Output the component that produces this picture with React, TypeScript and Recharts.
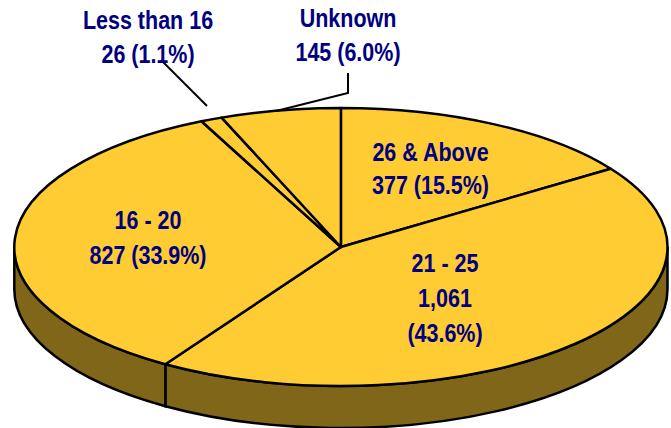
import { PieChart, Pie } from "recharts"

const categories = ["26 & Above", "21 - 25", "16 - 20", "Less than 16", "Unknown"]
const counts = [377, 1061, 827, 26, 145]
const labelLines = [
  ["26 & Above", "377 (15.5%)"],
  ["21 - 25", "1,061", "(43.6%)"],
  ["16 - 20", "827 (33.9%)"],
  ["Less than 16", "26 (1.1%)"],
  ["Unknown", "145 (6.0%)"],
]

const chartData = categories.map((name, i) => ({ name, value: counts[i] }))

const WIDTH = 671
const HEIGHT = 428
const CX = 340.9
const CY = 247
const RX = 326.6
const RY = 139
const DEPTH = 42
const TOP_COLOR = "#FFCC33"
const WALL_COLOR = "#806619"
const TEXT_COLOR = "#000080"
const LINE_WIDTH = 2.5
// no narrow face is installed, so the bold face gets squeezed horizontally
const TEXT_SQUEEZE = 0.86

// label anchor (center x, first baseline, line height), same order as categories
const labelPos = [
  { x: 430.5, y: 161, lh: 33 },
  { x: 445, y: 272, lh: 35 },
  { x: 148, y: 229, lh: 35 },
  { x: 148, y: 29, lh: 34 },
  { x: 348, y: 27, lh: 34 },
]
const leaders = [
  "161,60 207,106",
  "348,73 348,93 276,111",
]

const pt = (deg: number, dy = 0) => {
  const a = (deg * Math.PI) / 180
  return `${CX + RX * Math.cos(a)} ${CY - RY * Math.sin(a) + dy}`
}

// recharts works out the angles, this just squashes the sector into an ellipse
function EllipseSlice(props: any) {
  const { startAngle, endAngle } = props
  const large = startAngle - endAngle > 180 ? 1 : 0
  const top = `M ${CX} ${CY} L ${pt(startAngle)} A ${RX} ${RY} 0 ${large} 1 ${pt(endAngle)} Z`
  const hi = Math.min(startAngle, 0)
  const lo = Math.max(endAngle, -180)
  return (
    <g>
      {hi > lo && (
        <path
          d={`M ${pt(hi)} A ${RX} ${RY} 0 0 1 ${pt(lo)} L ${pt(lo, DEPTH)} A ${RX} ${RY} 0 0 0 ${pt(hi, DEPTH)} Z`}
          fill={WALL_COLOR}
          stroke="#000"
          strokeWidth={LINE_WIDTH}
        />
      )}
      <path d={top} fill={TOP_COLOR} stroke="#000" strokeWidth={LINE_WIDTH} strokeLinejoin="round" />
    </g>
  )
}

function SliceLabel({ index }: any) {
  const pos = labelPos[index]
  return (
    <g>
      {index === 3 && <polyline points={leaders[0]} fill="none" stroke="#000" strokeWidth={2} />}
      {index === 4 && <polyline points={leaders[1]} fill="none" stroke="#000" strokeWidth={2} />}
      {labelLines[index].map((line, i) => (
        <text
          key={line}
          transform={`translate(${pos.x} ${pos.y + i * pos.lh}) scale(${TEXT_SQUEEZE} 1)`}
          textAnchor="middle"
          fontFamily="'Liberation Sans', sans-serif"
          fontWeight="bold"
          fontSize={25}
          fill={TEXT_COLOR}
        >
          {line}
        </text>
      ))}
    </g>
  )
}

export default function App() {
  return (
    <div style={{ width: WIDTH, height: HEIGHT, overflow: "hidden" }}>
      <style>{"body{margin:0}"}</style>
      <PieChart width={WIDTH} height={HEIGHT} margin={{ top: 0, right: 0, bottom: 0, left: 0 }}>
        <Pie
          data={chartData}
          dataKey="value"
          nameKey="name"
          cx={CX}
          cy={CY}
          outerRadius={RX}
          startAngle={90}
          endAngle={-270}
          shape={EllipseSlice}
          label={SliceLabel}
          labelLine={false}
          isAnimationActive={false}
        />
      </PieChart>
    </div>
  )
}
